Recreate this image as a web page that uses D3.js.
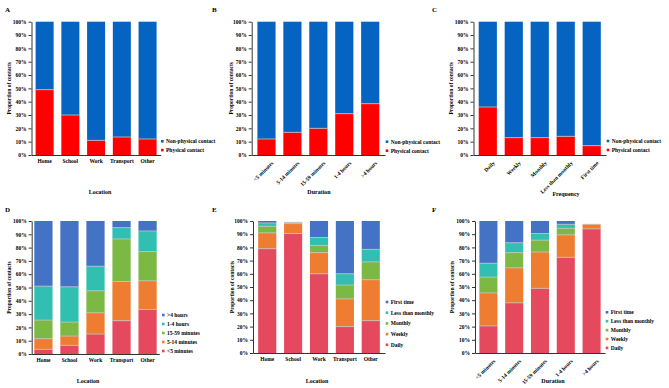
<!DOCTYPE html>
<html>
<head>
<meta charset="utf-8">
<script src="https://cdn.jsdelivr.net/npm/d3@7"></script>
<style>
  body { margin: 0; background: #fff; }
  text { font-family: "Liberation Serif", "Times New Roman", serif; font-weight: bold; }
</style>
</head>
<body>
<div id="chart-area"></div>
<script>
let width = 669;
let height = 388;

// categories
let locations = ["Home", "School", "Work", "Transport", "Other"];
let durations = ["<5 minutes", "5-14 minutes", "15-59 minutes", "1-4 hours", ">4 hours"];
let frequencies = ["Daily", "Weekly", "Monthly", "Less than monthly", "First time"];
let contactTypes = ["Physical contact", "Non-physical contact"];
let yTicks = [0, 10, 20, 30, 40, 50, 60, 70, 80, 90, 100];

// A - contact type by location (%)
let physicalByLocation = [49, 30, 11, 13.5, 12];
let nonPhysicalByLocation = [51, 70, 89, 86.5, 88];

// B - contact type by duration (%)
let physicalByDuration = [12, 17, 20, 31, 38.5];
let nonPhysicalByDuration = [88, 83, 80, 69, 61.5];

// C - contact type by frequency (%)
let physicalByFrequency = [36, 13, 13, 14, 7];
let nonPhysicalByFrequency = [64, 87, 87, 86, 93];

// D - duration by location (%), one array per location, order of durations
let durationHome = [3.5, 8, 14, 25.5, 49];
let durationSchool = [6.5, 7, 10.5, 26.5, 49.5];
let durationWork = [15, 16, 16.5, 18.5, 34];
let durationTransport = [25, 29.5, 32, 8.5, 5];
let durationOther = [33.5, 21.5, 22, 15.5, 7.5];

// E - frequency by location (%), order of frequencies
let frequencyHome = [79, 12, 5, 2.5, 1.5];
let frequencySchool = [90.5, 7.5, 0.7, 0.3, 0];
let frequencyWork = [60, 16, 5.5, 6, 12.5];
let frequencyTransport = [20, 21, 10.5, 8.5, 40];
let frequencyOther = [24.5, 31, 13.5, 9.5, 21.5];

// F - frequency by duration (%), order of frequencies
let frequencyUnder5 = [20.5, 25, 12, 10.5, 32];
let frequency5to14 = [38, 26.5, 11.5, 7.5, 16.5];
let frequency15to59 = [49, 27.5, 9, 5, 9.5];
let frequency1to4h = [72.5, 17, 5, 3, 2.5];
let frequencyOver4h = [94, 3.5, 0, 0, 0];

let typeColors = ["#FF0000", "#0563C1"];
let fiveColors = ["#E4495D", "#EE7D31", "#7BB844", "#30BFB0", "#4472C4"];

let svg = d3.select("#chart-area")
  .append("svg")
  .attr("width", width)
  .attr("height", height);

let panels = [
  { letter: "A", lx: 5, ly: 11.5, cats: locations, keys: contactTypes, colors: typeColors,
    rows: locations.map((c, i) => [physicalByLocation[i], nonPhysicalByLocation[i]]),
    x0: 31.5, x1: 160.7, po: 0.16, yTop: 21.7, yBot: 155, rotate: false,
    title: "Location", tx: 100, ty: 194, yx: 9, legX: 161, legY: 141.3, legStep: 8.8 },
  { letter: "B", lx: 212, ly: 11.5, cats: durations, keys: contactTypes, colors: typeColors,
    rows: durations.map((c, i) => [physicalByDuration[i], nonPhysicalByDuration[i]]),
    x0: 251.7, x1: 385, po: 0.22, yTop: 21.7, yBot: 155, rotate: true,
    title: "Duration", tx: 319, ty: 194, yx: 231.5, legX: 385.7, legY: 141.7, legStep: 9 },
  { letter: "C", lx: 432, ly: 11.5, cats: frequencies, keys: contactTypes, colors: typeColors,
    rows: frequencies.map((c, i) => [physicalByFrequency[i], nonPhysicalByFrequency[i]]),
    x0: 473.5, x1: 606, po: 0.2, yTop: 21.7, yBot: 155, rotate: true,
    title: "Frequency", tx: 566, ty: 196, yx: 451.5, legX: 606.7, legY: 141, legStep: 9 },
  { letter: "D", lx: 5, ly: 212, cats: locations, keys: durations, colors: fiveColors,
    rows: [durationHome, durationSchool, durationWork, durationTransport, durationOther],
    x0: 31.7, x1: 159.3, po: 0.1, yTop: 221, yBot: 354, rotate: false,
    title: "Location", tx: 88, ty: 383, yx: 9, legX: 162, legY: 315, legStep: 9 },
  { letter: "E", lx: 212, ly: 212, cats: locations, keys: frequencies, colors: fiveColors,
    rows: [frequencyHome, frequencySchool, frequencyWork, frequencyTransport, frequencyOther],
    x0: 253, x1: 385, po: 0.2, yTop: 221, yBot: 353, rotate: false,
    title: "Location", tx: 317, ty: 383, yx: 232, legX: 385.7, legY: 302, legStep: 10.7 },
  { letter: "F", lx: 432, ly: 212, cats: durations, keys: frequencies, colors: fiveColors,
    rows: [frequencyUnder5, frequency5to14, frequency15to59, frequency1to4h, frequencyOver4h],
    x0: 475, x1: 605, po: 0.17, yTop: 221, yBot: 353, rotate: true,
    title: "Duration", tx: 553, ty: 383, yx: 452, legX: 605.7, legY: 312.3, legStep: 8.9 }
];

panels.forEach(drawPanel);

function drawPanel(p) {
  let g = svg.append("g");

  let x = d3.scaleBand()
    .domain(p.cats)
    .range([p.x0, p.x1])
    .paddingInner(0.3)
    .paddingOuter(p.po);

  let y = d3.scaleLinear()
    .domain([0, 100])
    .range([p.yBot, p.yTop]);

  let color = d3.scaleOrdinal().domain(p.keys).range(p.colors);

  // table for d3.stack
  let table = p.cats.map((c, i) => {
    let row = { cat: c };
    p.keys.forEach((k, j) => row[k] = p.rows[i][j]);
    return row;
  });
  let series = d3.stack().keys(p.keys)(table);

  let layers = g.selectAll("g.layer")
    .data(series)
    .enter()
    .append("g")
    .attr("class", "layer")
    .attr("fill", d => color(d.key));

  layers.selectAll("rect")
    .data(d => d)
    .enter()
    .append("rect")
    .attr("x", d => x(d.data.cat))
    .attr("y", d => y(d[1]))
    .attr("width", x.bandwidth())
    .attr("height", d => y(d[0]) - y(d[1]));

  // thin light separators between stacked segments
  series.slice(0, -1).forEach(s => {
    g.selectAll(null)
      .data(s.filter(d => d[1] - d[0] > 0))
      .enter()
      .append("line")
      .attr("x1", d => x(d.data.cat))
      .attr("x2", d => x(d.data.cat) + x.bandwidth())
      .attr("y1", d => y(d[1]))
      .attr("y2", d => y(d[1]))
      .attr("stroke", "#c4c4c4")
      .attr("stroke-width", 0.8);
  });

  // axes
  let yAxis = d3.axisLeft(y)
    .tickValues(yTicks)
    .tickSize(3)
    .tickSizeOuter(0)
    .tickPadding(2)
    .tickFormat(d => d + "%");

  let yg = g.append("g")
    .attr("transform", `translate(${p.x0}, 0)`)
    .call(yAxis);
  yg.selectAll("text").style("font-size", "5.5px").attr("fill", "#000");
  yg.selectAll("line, path").attr("stroke", "#000").attr("stroke-width", 0.8);

  let xAxis = d3.axisBottom(x).tickSize(0).tickSizeOuter(0).tickPadding(4.5);
  let xg = g.append("g")
    .attr("transform", `translate(0, ${p.yBot})`)
    .call(xAxis);
  xg.select("path").attr("stroke", "#000").attr("stroke-width", 0.8);
  xg.selectAll("text").style("font-size", "5.5px").attr("fill", "#000");
  if (p.rotate) {
    xg.selectAll("text")
      .attr("x", 0)
      .attr("y", 0)
      .attr("dy", "0.35em")
      .attr("text-anchor", "end")
      .attr("transform", "translate(6, 7) rotate(-45)");
  }

  // labels
  g.append("text")
    .attr("x", p.lx)
    .attr("y", p.ly)
    .style("font-size", "7px")
    .text(p.letter);

  g.append("text")
    .attr("x", p.tx)
    .attr("y", p.ty)
    .attr("text-anchor", "middle")
    .style("font-size", "6px")
    .text(p.title);

  g.append("text")
    .attr("transform", `translate(${p.yx}, ${(p.yTop + p.yBot) / 2}) rotate(-90)`)
    .attr("dy", "0.35em")
    .attr("text-anchor", "middle")
    .style("font-size", "5.5px")
    .text("Proportion of contacts");

  // legend, top series first
  let legKeys = p.keys.slice().reverse();
  let leg = g.selectAll("g.legend")
    .data(legKeys)
    .enter()
    .append("g")
    .attr("class", "legend")
    .attr("transform", (d, i) => `translate(${p.legX}, ${p.legY + i * p.legStep})`);

  leg.append("rect")
    .attr("x", 0)
    .attr("y", -1.3)
    .attr("width", 2.6)
    .attr("height", 2.6)
    .attr("fill", d => color(d));

  leg.append("text")
    .attr("x", 5)
    .attr("y", 0)
    .attr("dy", "0.35em")
    .style("font-size", "5.5px")
    .text(d => d);
}
</script>
</body>
</html>
